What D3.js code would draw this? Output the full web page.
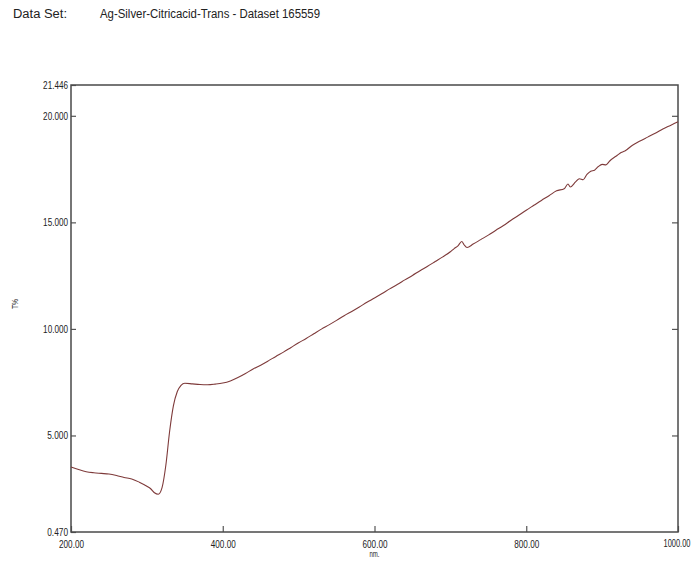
<!DOCTYPE html>
<html>
<head>
<meta charset="utf-8">
<script src="https://cdn.jsdelivr.net/npm/d3@7"></script>
<style>
    body { margin: 0; background: #fff; }
    svg { display: block; font-family: "Liberation Sans Narrow", "Arial Narrow", "Liberation Sans", Arial, sans-serif; }
</style>
</head>
<body>
<div id="chart"></div>
<script>
// Wavelength (nm)
const wavelengths = [
    200, 210, 220, 230, 240, 250, 260, 270, 280, 290,
    300, 305, 310, 315, 320, 325, 330, 335, 340, 345,
    350, 360, 370, 380, 390, 400, 410, 420, 430, 440,
    450, 460, 470, 480, 490, 500, 510, 520, 530, 540,
    550, 560, 570, 580, 590, 600, 610, 620, 630, 640,
    650, 660, 670, 680, 690, 700, 705, 710, 715, 718,
    722, 730, 740, 750, 760, 770, 780, 790, 800, 810,
    820, 830, 840, 850, 855, 858, 865, 870, 875, 880,
    885, 890, 895, 900, 905, 910, 920, 925, 930, 940,
    950, 960, 970, 980, 990, 1000
];
// Transmittance T% at each wavelength
const transmittance = [
    3.52, 3.40, 3.30, 3.25, 3.22, 3.19, 3.12, 3.03, 2.96, 2.81,
    2.62, 2.50, 2.31, 2.24, 2.55, 3.60, 5.20, 6.40, 7.05, 7.35,
    7.45, 7.42, 7.39, 7.38, 7.41, 7.46, 7.56, 7.72, 7.91, 8.12,
    8.30, 8.50, 8.71, 8.91, 9.13, 9.35, 9.55, 9.77, 9.99, 10.19,
    10.40, 10.62, 10.82, 11.03, 11.25, 11.45, 11.66, 11.88, 12.08, 12.30,
    12.51, 12.73, 12.94, 13.16, 13.38, 13.62, 13.77, 13.90, 14.10, 13.95,
    13.82, 13.98, 14.19, 14.40, 14.63, 14.85, 15.10, 15.33, 15.57, 15.80,
    16.03, 16.25, 16.48, 16.58, 16.80, 16.66, 16.90, 17.05, 17.00, 17.25,
    17.40, 17.45, 17.62, 17.72, 17.70, 17.88, 18.15, 18.28, 18.35, 18.62,
    18.82, 19.00, 19.18, 19.38, 19.55, 19.72
];
const yTicks = [0.470, 5, 10, 15, 20, 21.446];
const xTicks = [200, 400, 600, 800, 1000];

const width = 693;
const height = 561;
const margin = { top: 85, right: 15, bottom: 29, left: 71 };

// the original uses a narrow face; squeeze text to its width
const charW = 4.15;

const svg = d3.select("#chart")
    .append("svg")
    .attr("width", width)
    .attr("height", height);

// Header
svg.append("text")
    .attr("x", 13).attr("y", 18)
    .attr("font-size", 12).attr("fill", "#222")
    .attr("textLength", 54).attr("lengthAdjust", "spacingAndGlyphs")
    .text("Data Set:");
svg.append("text")
    .attr("x", 100).attr("y", 18)
    .attr("font-size", 12).attr("fill", "#222")
    .attr("textLength", 220).attr("lengthAdjust", "spacingAndGlyphs")
    .text("Ag-Silver-Citricacid-Trans - Dataset 165559");

const x = d3.scaleLinear()
    .domain([200, 1000])
    .range([margin.left, width - margin.right]);

const y = d3.scaleLinear()
    .domain([0.470, 21.446])
    .range([height - margin.bottom, margin.top]);

// Left axis with labels, ticks pointing in
const leftAxis = svg.append("g")
    .attr("transform", `translate(${margin.left},0)`)
    .call(d3.axisLeft(y).tickValues(yTicks).tickFormat(d3.format(".3f")).tickSize(-5).tickSizeOuter(0).tickPadding(3));

// Right axis, ticks only
const rightAxis = svg.append("g")
    .attr("transform", `translate(${width - margin.right},0)`)
    .call(d3.axisRight(y).tickValues([5, 10, 15, 20]).tickFormat("").tickSize(-6).tickSizeOuter(0));

// Bottom axis
const bottomAxis = svg.append("g")
    .attr("transform", `translate(0,${height - margin.bottom})`)
    .call(d3.axisBottom(x).tickValues(xTicks).tickFormat(d3.format(".2f")).tickSize(-6).tickSizeOuter(0).tickPadding(8));

[leftAxis, rightAxis, bottomAxis].forEach(g => {
    g.select(".domain").remove();
    g.selectAll(".tick line").attr("stroke", "#555").attr("stroke-width", 1.2);
    g.selectAll(".tick text")
        .attr("font-size", 11).attr("fill", "#222")
        .attr("font-family", "\"Liberation Sans Narrow\", \"Arial Narrow\", \"Liberation Sans\", sans-serif")
        .attr("lengthAdjust", "spacingAndGlyphs")
        .attr("textLength", function () { return this.textContent.length * charW; });
});

// last x label: a little smaller and right-aligned so it stays on the page
bottomAxis.selectAll(".tick text")
    .filter(d => d === 1000)
    .attr("font-size", 10)
    .attr("text-anchor", "end")
    .attr("textLength", 27)
    .attr("x", 12);

// Frame
svg.append("rect")
    .attr("x", margin.left)
    .attr("y", margin.top)
    .attr("width", width - margin.left - margin.right)
    .attr("height", height - margin.top - margin.bottom)
    .attr("fill", "none")
    .attr("stroke", "#4a4a4a")
    .attr("stroke-width", 1.5);

// Spectrum line
const data = wavelengths.map((w, i) => ({ w: w, t: transmittance[i] }));
svg.append("path")
    .datum(data)
    .attr("fill", "none")
    .attr("stroke", "#7e3a3a")
    .attr("stroke-width", 1.1)
    .attr("d", d3.line().x(d => x(d.w)).y(d => y(d.t)).curve(d3.curveMonotoneX));

// Axis titles
svg.append("text")
    .attr("x", x(600)).attr("y", 557)
    .attr("text-anchor", "middle")
    .attr("font-size", 9).attr("fill", "#222")
    .attr("textLength", 10).attr("lengthAdjust", "spacingAndGlyphs")
    .text("nm.");

svg.append("text")
    .attr("transform", `translate(18,304) rotate(-90)`)
    .attr("text-anchor", "middle")
    .attr("font-size", 9).attr("fill", "#222")
    .attr("textLength", 10).attr("lengthAdjust", "spacingAndGlyphs")
    .text("T%");
</script>
</body>
</html>
